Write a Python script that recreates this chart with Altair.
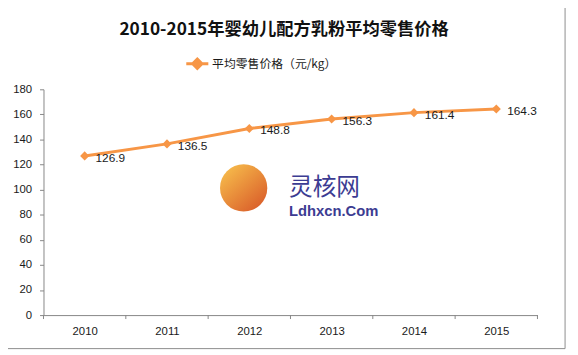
import altair as alt
import pandas as pd

# ---- data ----
years = [2010, 2011, 2012, 2013, 2014, 2015]
prices = [126.9, 136.5, 148.8, 156.3, 161.4, 164.3]
price_labels = ["126.9", "136.5", "148.8", "156.3", "161.4", "164.3"]
series_name = "平均零售价格（元/kg）"
title_text = "2010-2015年婴幼儿配方乳粉平均零售价格"
y_ticks = [0, 20, 40, 60, 80, 100, 120, 140, 160, 180]
x_tick_edges = [2009.5, 2010.5, 2011.5, 2012.5, 2013.5, 2014.5, 2015.5]
wm_cn = ["灵核网"]
wm_en = ["Ldhxcn.Com"]

df = pd.DataFrame({"year": years, "price": prices, "label": price_labels,
                   "series": [series_name] * len(years)})
edges_df = pd.DataFrame({"edge": x_tick_edges})
one = pd.DataFrame({"t": [title_text], "cn": wm_cn, "en": wm_en})

ORANGE = "#F79646"
AXIS = "#868686"
TXT = "#1a1a1a"
W, H = 501, 229

x_scale = alt.Scale(domain=[2009.5, 2015.5], nice=False, zero=False)
y_scale = alt.Scale(domain=[0, 180], nice=False)
x_axis = alt.Axis(values=years, format="d", title=None, tickSize=0,
                  labelPadding=11, grid=False, domainColor=AXIS,
                  labelFontSize=11.5, labelFont="Liberation Sans",
                  labelColor=TXT, labelFlush=False)
y_axis = alt.Axis(values=y_ticks, title=None, tickSize=4, tickColor=AXIS,
                  labelPadding=8, grid=False, domainColor=AXIS,
                  labelFontSize=11.5, labelFont="Liberation Sans",
                  labelColor=TXT)


def xe(field):
    return alt.X(field, scale=x_scale, axis=x_axis, title=None)


def ye(field):
    return alt.Y(field, scale=y_scale, axis=y_axis, title=None)


base = alt.Chart(df)

line = base.mark_line(strokeWidth=3).encode(
    x=xe("year:Q"), y=ye("price:Q"),
    color=alt.Color("series:N", scale=alt.Scale(range=[ORANGE]),
                    legend=alt.Legend(orient="none", legendX=143, legendY=-39,
                                      title=None,
                                      symbolType="M-1,0L1,0M0,-0.42L0.42,0L0,0.42L-0.42,0Z",
                                      symbolSize=500, symbolStrokeWidth=3,
                                      symbolFillColor=ORANGE, symbolStrokeColor=ORANGE,
                                      labelFont="Noto Sans CJK SC", labelFontSize=12,
                                      labelColor=TXT, labelOffset=2)),
)

points = base.mark_point(shape="diamond", filled=True, size=85, opacity=1,
                         color=ORANGE).encode(x=xe("year:Q"), y=ye("price:Q"))

texts = base.mark_text(align="left", baseline="middle", dx=11, dy=2,
                       fontSize=12, font="Liberation Sans", color=TXT).encode(
    x=xe("year:Q"), y=ye("price:Q"), text="label:N")

xticks = alt.Chart(edges_df).mark_rule(color=AXIS).encode(
    x=xe("edge:Q"), y=alt.value(H), y2=alt.value(H + 4))

title = alt.Chart(one).mark_text(fontSize=17.5, fontWeight="bold",
                                 font="Noto Sans CJK SC", color="#111",
                                 baseline="middle", align="center").encode(
    text="t:N", x=alt.value(244), y=alt.value(-60))

circle = alt.Chart(one).mark_point(
    shape="circle", filled=True, size=2300, opacity=0.95,
    fill=alt.Gradient(gradient="linear", x1=0.2, y1=0.1, x2=0.9, y2=0.9,
                      stops=[alt.GradientStop(color="#F4B13F", offset=0),
                             alt.GradientStop(color="#D8561F", offset=1)]),
).encode(x=alt.value(203), y=alt.value(100))
wm1 = alt.Chart(one).mark_text(fontSize=24, font="Noto Sans CJK SC", color="#3C3C92",
                               align="left", baseline="middle").encode(
    text="cn:N", x=alt.value(249), y=alt.value(100))
wm2 = alt.Chart(one).mark_text(fontSize=15, fontWeight="bold",
                               font="Liberation Sans Narrow, Liberation Sans",
                               color="#3C3C92", align="left", baseline="middle").encode(
    text="en:N", x=alt.value(249), y=alt.value(123))

border = alt.Chart(one).mark_rect(fill=None, stroke="#8c8c8c", strokeWidth=1).encode(
    x=alt.value(-41), x2=alt.value(529), y=alt.value(-84), y2=alt.value(263))

chart = alt.layer(line, border, circle, wm1, wm2, xticks, points, texts, title).properties(
    width=W, height=H,
    autosize=alt.AutoSizeParams(type="none"),
    padding={"left": 36, "top": 80, "right": 33, "bottom": 38},
    background="white",
).configure_view(stroke=None)

chart.save("out.html", embed_options={"renderer": "svg", "actions": False})
